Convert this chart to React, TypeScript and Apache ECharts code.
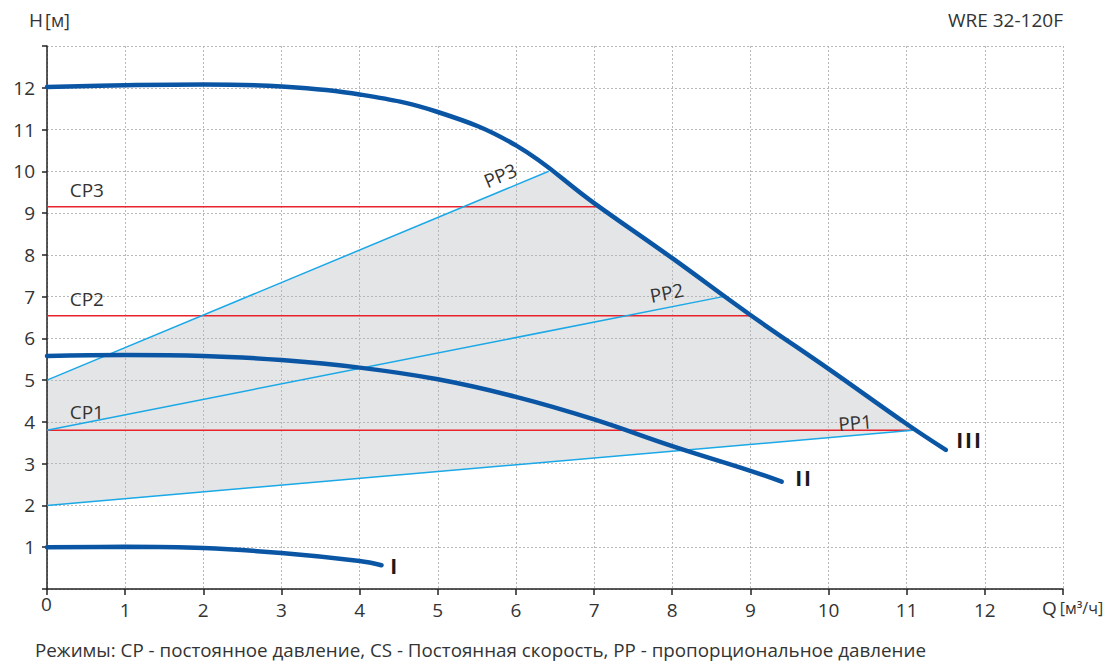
import React, { useEffect, useRef } from "react";
import * as echarts from "echarts";

// ---- data ----
const curveI: number[][] = [[0, 1.0], [1, 1.01], [2, 0.98], [3, 0.86], [4, 0.67], [4.28, 0.57]];
const curveII: number[][] = [[0, 5.58], [1, 5.6], [2, 5.58], [3, 5.48], [4, 5.3], [5, 5.02], [6, 4.6], [7, 4.06], [8, 3.42], [9, 2.83], [9.4, 2.57]];
const curveIII: number[][] = [[0, 12.02], [1, 12.06], [2, 12.08], [3, 12.03], [4, 11.84], [5, 11.42], [6, 10.62], [7, 9.24], [8, 7.92], [9, 6.56], [10, 5.27], [11, 3.95], [11.5, 3.33]];

const pp1: number[][] = [[0, 2.0], [11.08, 3.8]];
const pp2: number[][] = [[0, 3.8], [8.65, 7.0]];
const pp3: number[][] = [[0, 5.0], [6.42, 10.0]];

const cp1: number[][] = [[0, 3.8], [11.08, 3.8]];
const cp2: number[][] = [[0, 6.54], [9.0, 6.54]];
const cp3: number[][] = [[0, 9.15], [7.05, 9.15]];

const cpLabels = ["CP1", "CP2", "CP3"];
const cpLabelPos: number[][] = [[0.29, 4.24], [0.29, 6.95], [0.29, 9.55]];
const ppLabels = ["PP1", "PP2", "PP3"];
const ppLabelPos: number[][] = [[10.34, 3.98], [7.93, 7.09], [5.8, 9.9]];
const romanLabels = ["I", "II", "III"];
const romanLabelPos: number[][] = [[4.38, 0.55], [9.56, 2.66], [11.62, 3.57]];

const xMax = 13;
const yMax = 13;

const FONT = "'Open Sans', 'Noto Sans', sans-serif";
const TEXT = "#333333";
const BLUE = "#0a56a5";
const LIGHT = "#1aa8e6";
const RED = "#e8232c";

export default function App() {
  const ref = useRef<HTMLDivElement>(null);

  useEffect(() => {
    if (!ref.current) return;
    const chart = echarts.init(ref.current, undefined, { renderer: "svg" });

    // gray operating region polygon: PP1 -> along curve III back -> PP3
    const upper = curveIII.filter((p) => p[0] > pp3[1][0] && p[0] < pp1[1][0]).reverse();
    const fillPoly: number[][] = [pp1[0], pp1[1], ...upper, pp3[1], pp3[0]];

    const ppLines = [pp1, pp2, pp3];

    const lineSeries = (data: number[][], color: string, width: number, z = 3) => ({
      type: "line",
      data,
      showSymbol: false,
      symbol: "none",
      lineStyle: { color, width },
      z,
      silent: true,
    });

    const curveSeries = (data: number[][]) => ({
      type: "line",
      data,
      showSymbol: false,
      symbol: "none",
      smooth: 0.4,
      lineStyle: { color: BLUE, width: 4.5, cap: "round" },
      z: 5,
      silent: true,
    });

    chart.setOption({
      animation: false,
      grid: { left: 47, right: 52, top: 46, bottom: 74, containLabel: false },
      xAxis: {
        type: "value",
        min: 0,
        max: xMax,
        interval: 1,
        axisLine: { show: true, onZero: false, lineStyle: { color: "#222", width: 1.5 } },
        axisTick: { show: true, length: 6, lineStyle: { color: "#222", width: 1.5 } },
        axisLabel: {
          margin: 11,
          fontFamily: FONT,
          fontSize: 19,
          color: TEXT,
          formatter: (v: number) => (v === 0 || v === xMax ? "" : String(v)),
        },
        splitLine: { show: true, lineStyle: { color: "#b8b8b8", type: [2, 2], width: 1 } },
      },
      yAxis: {
        type: "value",
        min: 0,
        max: yMax,
        interval: 1,
        axisLine: { show: true, onZero: false, lineStyle: { color: "#222", width: 1.5 } },
        axisTick: { show: true, length: 5, lineStyle: { color: "#222", width: 1.5 } },
        axisLabel: {
          margin: 12,
          fontFamily: FONT,
          fontSize: 19,
          color: TEXT,
          formatter: (v: number) => (v === 0 || v === yMax ? "" : String(v)),
        },
        splitLine: { show: true, lineStyle: { color: "#b8b8b8", type: [2, 2], width: 1 } },
      },
      series: [
        {
          type: "custom",
          data: [[0, 0]],
          z: -1,
          silent: true,
          renderItem: (_p: any, api: any) => ({
            type: "polygon",
            shape: { points: fillPoly.map((pt) => api.coord(pt)), smooth: 0 },
            style: { fill: "#e4e5e7" },
          }),
        },
        lineSeries(cp1, RED, 1.5),
        lineSeries(cp2, RED, 1.5),
        lineSeries(cp3, RED, 1.5),
        lineSeries(pp1, LIGHT, 1.5),
        lineSeries(pp2, LIGHT, 1.5),
        lineSeries(pp3, LIGHT, 1.5),
        curveSeries(curveI),
        curveSeries(curveII),
        curveSeries(curveIII),
        {
          type: "custom",
          data: cpLabelPos,
          z: 6,
          silent: true,
          renderItem: (p: any, api: any) => {
            const c = api.coord([api.value(0), api.value(1)]);
            return {
              type: "text",
              x: c[0],
              y: c[1],
              style: { text: cpLabels[p.dataIndex], fill: TEXT, font: `19px ${FONT}`, align: "left", verticalAlign: "middle" },
            };
          },
        },
        {
          type: "custom",
          data: ppLabelPos,
          z: 6,
          silent: true,
          renderItem: (p: any, api: any) => {
            const c = api.coord([api.value(0), api.value(1)]);
            const line = ppLines[p.dataIndex];
            const a = api.coord(line[0]);
            const b = api.coord(line[1]);
            const rot = Math.atan2(-(b[1] - a[1]), b[0] - a[0]);
            return {
              type: "text",
              x: c[0],
              y: c[1],
              rotation: rot,
              style: { text: ppLabels[p.dataIndex], fill: TEXT, font: `19px ${FONT}`, align: "center", verticalAlign: "middle" },
            };
          },
        },
        {
          type: "custom",
          data: romanLabelPos,
          z: 6,
          silent: true,
          renderItem: (p: any, api: any) => {
            const c = api.coord([api.value(0), api.value(1)]);
            const s = romanLabels[p.dataIndex];
            return {
              type: "text",
              x: c[0],
              y: c[1],
              style: {
                text: s.split("").map(() => "{i|I}").join(""),
                align: "left",
                verticalAlign: "middle",
                rich: {
                  i: { fontFamily: FONT, fontSize: 21, fontWeight: "bold", fill: "#1a1a1a", padding: [0, 1, 0, 1] },
                },
              },
            };
          },
        },
      ],
      graphic: [
        {
          type: "text",
          left: 29,
          top: 10,
          style: {
            text: "{a|H}{b|[м]}",
            rich: {
              a: { fontFamily: FONT, fontSize: 19, fill: TEXT, padding: [0, 2, 0, 0] },
              b: { fontFamily: FONT, fontSize: 18, fill: TEXT },
            },
          },
        },
        {
          type: "text",
          right: 52,
          top: 10,
          style: { text: "WRE 32-120F", font: `19px ${FONT}`, fill: TEXT },
        },
        {
          type: "text",
          left: 41,
          top: 594,
          style: { text: "0", font: `19px ${FONT}`, fill: TEXT },
        },
        {
          type: "text",
          left: 1042,
          top: 598,
          style: {
            text: "{a|Q}{b|[м³/ч]}",
            rich: {
              a: { fontFamily: FONT, fontSize: 19, fill: TEXT, padding: [0, 3, 0, 0] },
              b: { fontFamily: FONT, fontSize: 16, fill: TEXT },
            },
          },
        },
        {
          type: "text",
          left: 35,
          top: 640,
          style: {
            text: "Режимы: CP - постоянное давление, CS - Постоянная скорость, PP - пропорциональное давление",
            font: `18.8px ${FONT}`,
            fill: TEXT,
          },
        },
      ],
    });

    return () => chart.dispose();
  }, []);

  return <div ref={ref} style={{ position: "absolute", left: 0, top: 0, width: 1115, height: 663 }} />;
}
